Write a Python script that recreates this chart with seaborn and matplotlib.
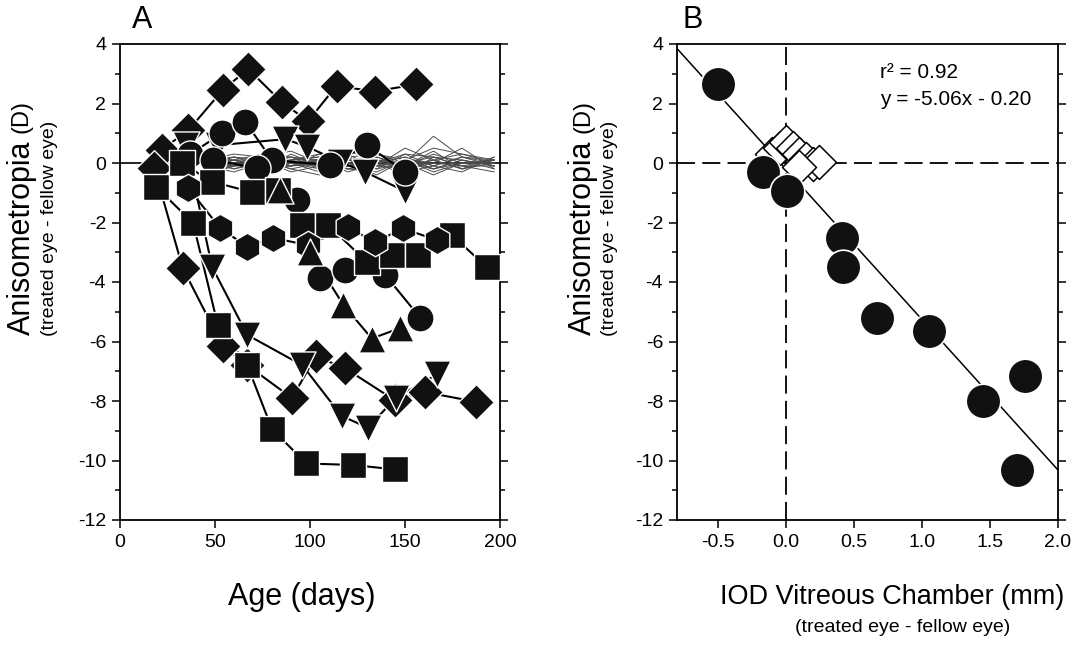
import matplotlib
matplotlib.use("Agg")
import matplotlib.pyplot as plt
from matplotlib.ticker import MultipleLocator
import seaborn as sns
import pandas as pd

# ---- panel A: treated animals (age in days, anisometropia in D) ----
s1_age = [22, 36, 54, 67.5, 85, 99, 114, 134, 156]
s1_val = [0.45, 1.1, 2.45, 3.16, 2.05, 1.41, 2.6, 2.4, 2.65]
s2_age = [18, 33, 54, 67, 90.5, 103, 118.5, 144.5, 160.5, 187.5]
s2_val = [-0.17, -3.53, -6.15, -6.8, -7.9, -6.5, -6.9, -7.97, -7.7, -8.03]
s3_age = [19, 38.5, 51.5, 67, 80, 98, 122.6, 144.7]
s3_val = [-0.8, -2.02, -5.45, -6.8, -8.94, -10.1, -10.15, -10.3]
s4_age = [34.7, 48.5, 67, 96, 116.6, 130.5, 145, 167]
s4_val = [0.6, -3.5, -5.78, -6.8, -8.5, -8.9, -7.9, -7.1]
s5_age = [51.6, 87, 98.5, 116, 129, 150]
s5_val = [0.6, 0.8, 0.55, 0.03, -0.3, -0.95]
s6_age = [37, 53.7, 66, 80, 110.5, 130, 150]
s6_val = [0.3, 1.0, 1.38, 0.1, -0.07, 0.6, -0.3]
s7_age = [49, 72, 93, 105, 118.4, 139.5, 158]
s7_val = [0.1, -0.17, -1.25, -3.87, -3.6, -3.76, -5.2]
s8_age = [32.6, 48.4, 69.5, 83, 95.8, 109.5, 130, 143, 157, 174.7, 193]
s8_val = [0.0, -0.63, -0.98, -0.9, -2.08, -2.08, -3.33, -3.1, -3.1, -2.42, -3.5]
s9_age = [36, 52.6, 67, 80.5, 99, 120, 134, 149, 167]
s9_val = [-0.85, -2.18, -2.82, -2.52, -2.76, -2.15, -2.66, -2.2, -2.6]
s10_age = [84, 100, 117.6, 132.5, 147.4]
s10_val = [-0.9, -3.0, -4.77, -5.9, -5.55]

series = [
    (s1_age, s1_val, "D", 330), (s2_age, s2_val, "D", 330),
    (s3_age, s3_val, "s", 330), (s4_age, s4_val, "v", 380),
    (s5_age, s5_val, "v", 380), (s6_age, s6_val, "o", 380),
    (s7_age, s7_val, "o", 380), (s8_age, s8_val, "s", 330),
    (s9_age, s9_val, "h", 420), (s10_age, s10_val, "^", 380),
]

# ---- panel A: control animals (thin lines) ----
ctrl_age = [45, 60, 75, 90, 105, 120, 135, 150, 165, 180, 197]
ctrl_vals = [
    [0.1, -0.1, 0.2, 0.0, -0.2, 0.1, 0.2, -0.1, 0.3, 0.0, 0.1],
    [-0.2, 0.1, -0.1, 0.2, 0.1, -0.3, 0.0, 0.2, -0.2, 0.1, -0.1],
    [0.3, 0.0, -0.2, -0.1, 0.3, 0.2, -0.1, 0.5, 0.1, -0.2, 0.0],
    [0.0, 0.2, 0.1, -0.3, -0.1, 0.0, 0.3, 0.0, 0.9, 0.2, 0.1],
    [-0.1, -0.3, 0.0, 0.1, 0.2, -0.2, -0.3, 0.1, 0.0, 0.5, -0.2],
    [0.2, 0.1, 0.3, 0.2, -0.2, -0.1, 0.1, -0.3, -0.1, -0.3, 0.2],
    [-0.3, 0.0, -0.4, 0.0, 0.1, 0.3, -0.2, 0.0, -0.4, 0.0, 0.0],
    [0.1, 0.3, 0.2, 0.4, 0.0, -0.1, 0.0, 0.3, 0.2, -0.1, -0.3],
    [0.0, -0.2, 0.1, -0.2, -0.4, 0.1, 0.2, -0.2, 0.1, 0.3, 0.1],
    [0.2, -0.1, -0.1, 0.1, 0.2, 0.0, -0.4, 0.1, -0.2, 0.1, -0.1],
    [-0.1, 0.2, 0.0, -0.1, 0.0, 0.4, 0.1, -0.1, 0.4, -0.2, 0.2],
    [0.1, 0.0, -0.2, 0.3, -0.1, -0.2, 0.0, 0.2, -0.1, 0.2, -0.1],
    [-0.2, -0.1, 0.1, -0.2, 0.0, 0.1, -0.1, -0.2, 0.0, -0.1, 0.1],
    [0.0, 0.1, -0.3, 0.1, 0.3, -0.1, 0.1, 0.0, 0.2, 0.1, -0.2],
    [0.2, -0.2, 0.0, 0.0, -0.1, 0.2, -0.1, 0.1, -0.3, 0.0, 0.0],
    [-0.1, 0.0, 0.2, -0.1, 0.1, -0.1, 0.2, -0.1, 0.1, -0.2, 0.1],
    [0.1, 0.2, -0.1, 0.0, -0.3, 0.0, -0.2, 0.3, -0.1, 0.2, 0.0],
    [-0.4, -0.1, 0.1, 0.2, 0.0, -0.2, 0.0, -0.4, 0.2, -0.1, -0.1],
    [0.0, -0.1, 0.0, 0.1, 0.1, 0.2, 0.3, 0.1, 0.5, 0.3, 0.0],
    [0.1, 0.1, 0.0, -0.1, 0.0, -0.1, -0.1, 0.0, -0.2, 0.0, 0.1],
]

# ---- panel B ----
iod_treated = [-0.5, -0.17, 0.01, 0.41, 0.42, 0.67, 1.05, 1.45, 1.76, 1.70]
aniso_treated = [2.65, -0.3, -0.94, -2.52, -3.5, -5.21, -5.65, -8.0, -7.16, -10.32]
iod_ctrl = [-0.1, -0.04, 0.0, 0.05, 0.1, 0.15, 0.2, 0.24, 0.1]
aniso_ctrl = [0.3, 0.5, 0.72, 0.5, 0.3, 0.12, -0.05, 0.05, -0.15]
slope, intercept = -5.06, -0.20

sns.set_style("ticks")
plt.rcParams["font.family"] = ["Liberation Sans", "DejaVu Sans"]
plt.rcParams["axes.unicode_minus"] = False
plt.rcParams["text.color"] = "black"
plt.rcParams["xtick.color"] = "black"
plt.rcParams["ytick.color"] = "black"

fig = plt.figure(figsize=(10.82, 6.46), dpi=100)
W, H = 1082, 646
axA = fig.add_axes([120 / W, 1 - 520 / H, 380 / W, 476 / H])
axB = fig.add_axes([677 / W, 1 - 520 / H, 381 / W, 476 / H])

# panel A
axA.axhline(0, color="black", lw=1.2, zorder=1)
ctrl = pd.DataFrame(
    [(i, a, v) for i, vals in enumerate(ctrl_vals) for a, v in zip(ctrl_age, vals)],
    columns=["animal", "age", "aniso"],
)
sns.lineplot(data=ctrl, x="age", y="aniso", units="animal", estimator=None,
             color="0.3", lw=0.7, ax=axA, zorder=2)
for age, val, m, s in series:
    sns.lineplot(x=age, y=val, sort=False, estimator=None, color="black",
                 lw=1.5, ax=axA, zorder=3)
for age, val, m, s in series:
    sns.scatterplot(x=age, y=val, marker=m, s=s, color="#111111",
                    edgecolor="white", linewidth=1, ax=axA, zorder=4)
axA.set_xlim(0, 200)
axA.set_xticks([0, 50, 100, 150, 200])

# panel B
axB.axhline(0, color="black", lw=1.3, ls=(0, (10, 4)), zorder=1)
axB.axvline(0, color="black", lw=1.3, ls=(0, (10, 4)), zorder=1)
axB.axline((0, intercept), slope=slope, color="black", lw=1.1, zorder=2)
sns.scatterplot(x=iod_ctrl, y=aniso_ctrl, marker="D", s=300, color="white",
                edgecolor="black", linewidth=1.1, ax=axB, zorder=3)
sns.scatterplot(x=iod_treated, y=aniso_treated, marker="o", s=620,
                color="#111111", edgecolor="white", linewidth=1.2, ax=axB, zorder=4)
axB.set_xlim(-0.8, 2.0)
axB.set_xticks([-0.5, 0.0, 0.5, 1.0, 1.5, 2.0])
axB.set_xticklabels(["-0.5", "0.0", "0.5", "1.0", "1.5", "2.0"])
axB.text(0.69, 3.03, "r² = 0.92", fontsize=15, va="center")
axB.text(0.69, 2.15, "y = -5.06x - 0.20", fontsize=15, va="center")

for ax in (axA, axB):
    ax.set_ylim(-12, 4)
    ax.set_yticks(range(-12, 5, 2))
    ax.yaxis.set_minor_locator(MultipleLocator(1))
    ax.tick_params(which="both", direction="out", width=1.1, right=True,
                   top=False, labelsize=14, pad=4, colors="black")
    ax.tick_params(which="major", length=6)
    ax.tick_params(which="minor", length=3.5)
    ax.set_xlabel("")
    ax.set_ylabel("")
    for sp in ax.spines.values():
        sp.set_linewidth(1.3)
        sp.set_color("black")

# labels
for xm, xs in ((22, 50), (583, 609)):
    fig.text(xm / W, 1 - 335 / H, "Anisometropia", rotation=90, fontsize=22,
             ha="center", va="bottom")
    fig.text(xm / W, 1 - 133 / H, "(D)", rotation=90, fontsize=17,
             ha="center", va="bottom")
    fig.text(xs / W, 1 - 228 / H, "(treated eye - fellow eye)", rotation=90,
             fontsize=14, ha="center", va="center")
fig.text(302 / W, 1 - 597 / H, "Age (days)", fontsize=22, ha="center", va="center")
fig.text(892 / W, 1 - 597 / H, "IOD Vitreous Chamber (mm)", fontsize=19.5,
         ha="center", va="center")
fig.text(903 / W, 1 - 628 / H, "(treated eye - fellow eye)", fontsize=14,
         ha="center", va="center")
fig.text(142 / W, 1 - 20 / H, "A", fontsize=22, ha="center", va="center")
fig.text(693 / W, 1 - 20 / H, "B", fontsize=22, ha="center", va="center")

fig.savefig("out.png", dpi=100)
